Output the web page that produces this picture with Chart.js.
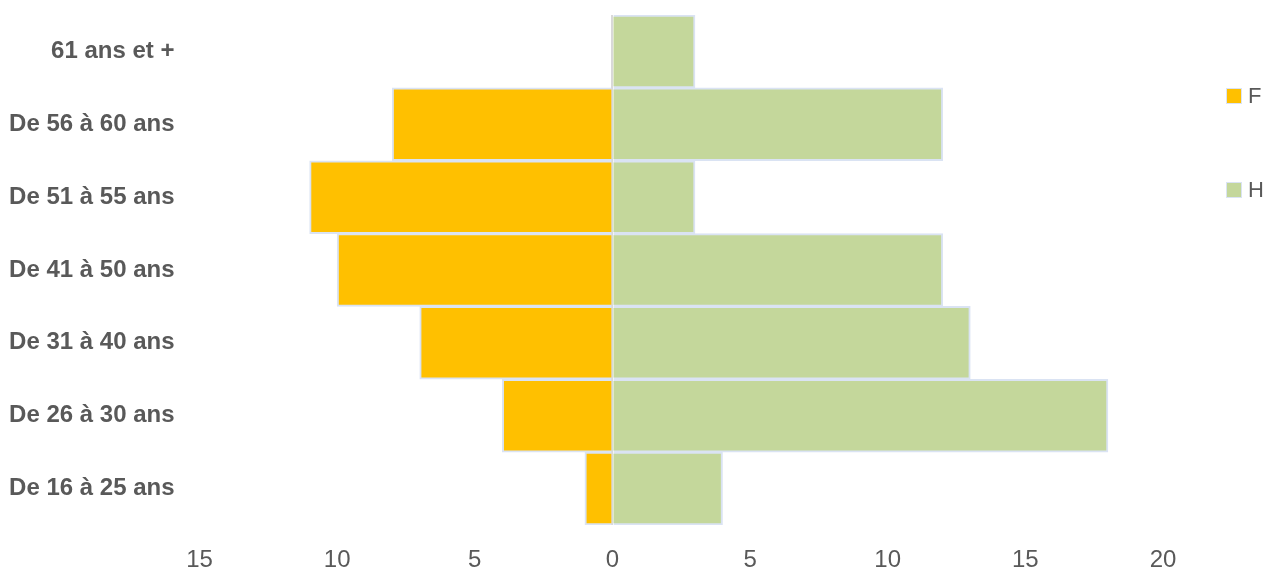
<!DOCTYPE html>
<html>
<head>
<meta charset="utf-8">
<script src="https://cdn.jsdelivr.net/npm/chart.js@4"></script>
<style>
html,body{margin:0;padding:0;background:#fff;}
#wrap{width:1277px;height:575px;position:relative;}
</style>
</head>
<body>
<div id="wrap"><canvas id="c" width="1277" height="575"></canvas></div>
<script>
const categories = ["61 ans et +", "De 56 à 60 ans", "De 51 à 55 ans", "De 41 à 50 ans", "De 31 à 40 ans", "De 26 à 30 ans", "De 16 à 25 ans"];
const femmes = [0, 8, 11, 10, 7, 4, 1];
const hommes = [3, 12, 3, 12, 13, 18, 4];
const xTicks = [-15, -10, -5, 0, 5, 10, 15, 20];

const legendPlugin = {
  id: 'customLegend',
  afterDraw(chart) {
    const ctx = chart.ctx;
    const items = [{ds: 0, y: 96}, {ds: 1, y: 190}];
    ctx.save();
    items.forEach(it => {
      const d = chart.data.datasets[it.ds];
      ctx.fillStyle = '#dae3f3';
      ctx.fillRect(1226, it.y - 8, 16, 16);
      ctx.fillStyle = d.backgroundColor;
      ctx.fillRect(1227, it.y - 7, 14, 14);
      ctx.fillStyle = '#595959';
      ctx.font = '22px "Liberation Sans", Arial, sans-serif';
      ctx.textBaseline = 'middle';
      ctx.textAlign = 'left';
      ctx.fillText(d.label, 1248, it.y + 1);
    });
    ctx.restore();
  }
};

new Chart(document.getElementById('c'), {
  type: 'bar',
  data: {
    labels: categories,
    datasets: [
      {label: 'F', data: femmes.map(v => -v), backgroundColor: '#FFC000', borderColor: '#dae3f3', borderWidth: 2, barPercentage: 1, categoryPercentage: 1},
      {label: 'H', data: hommes, backgroundColor: '#C4D79B', borderColor: '#dae3f3', borderWidth: 2, barPercentage: 1, categoryPercentage: 1}
    ]
  },
  options: {
    indexAxis: 'y',
    responsive: false,
    animation: false,
    layout: {padding: {left: 0, right: 114, top: 15, bottom: 0}},
    plugins: {legend: {display: false}, tooltip: {enabled: false}},
    scales: {
      x: {
        stacked: true,
        min: -15, max: 20,
        afterBuildTicks(axis) { axis.ticks = xTicks.map(v => ({value: v})); },
        afterFit(axis) { axis.height = 50; axis.paddingLeft = 0; axis.paddingRight = 0; },
        ticks: {
          callback: v => Math.abs(v),
          color: '#595959',
          font: {family: '"Liberation Sans", Arial, sans-serif', size: 24},
          padding: 21,
          maxRotation: 0
        },
        border: {display: false},
        grid: {
          drawTicks: false,
          color: ctx => (ctx.tick && ctx.tick.value === 0) ? '#d9d9d9' : 'rgba(0,0,0,0)',
          lineWidth: 2
        }
      },
      y: {
        stacked: true,
        afterFit(axis) { axis.width = 199.5; axis.paddingTop = 0; axis.paddingBottom = 0; },
        ticks: {
          color: '#595959',
          font: {family: '"Liberation Sans", Arial, sans-serif', size: 24, weight: 'bold'},
          padding: 17
        },
        border: {display: false},
        grid: {display: false}
      }
    }
  },
  plugins: [legendPlugin]
});
</script>
</body>
</html>
